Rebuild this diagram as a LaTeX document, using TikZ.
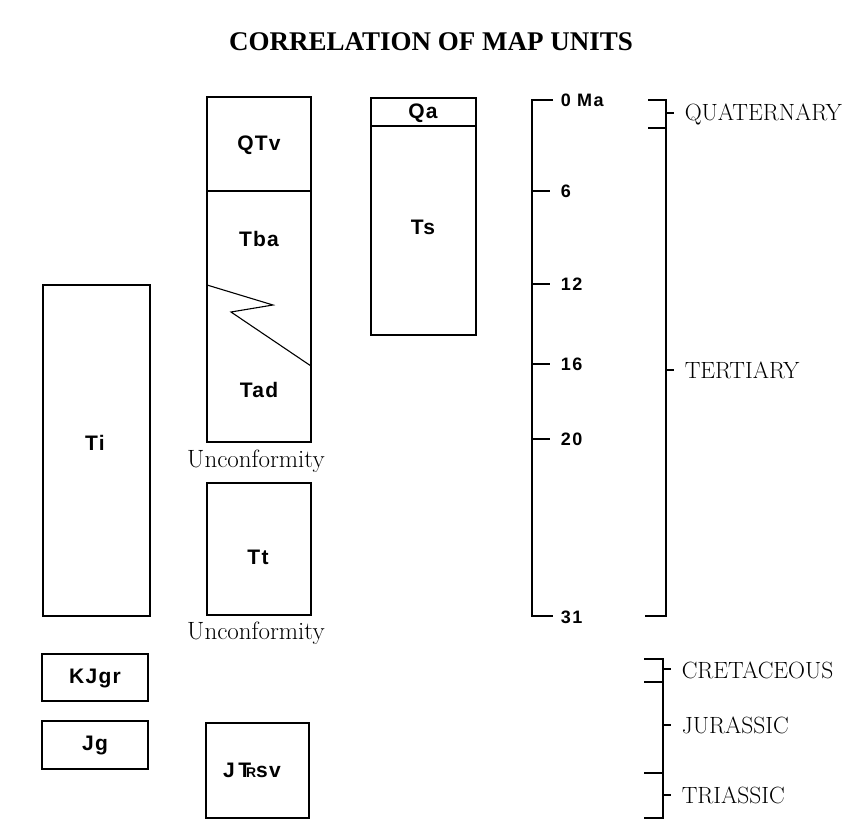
\documentclass[tikz,border=0pt]{standalone}
\usepackage{fontspec}
\newfontfamily\unitfont{Liberation Sans}[LetterSpace=6]
\newfontfamily\agefont{Liberation Sans}[LetterSpace=9]
\newfontfamily\titlefont{Liberation Serif}
\newcommand{\triassic}{T\kern-0.24em\raisebox{0pt}{\fontsize{14}{14}\selectfont R}}

\begin{document}
\begin{tikzpicture}[x=1pt, y=-1pt, line width=1.5pt,
    unit/.style={font=\unitfont\bfseries\fontsize{21}{24}\selectfont, inner sep=0pt},
    age/.style={font=\agefont\bfseries\fontsize{18}{20}\selectfont, anchor=west, inner sep=0pt},
    period/.style={font=\fontsize{23.5}{26}\selectfont, anchor=west, inner sep=0pt},
    unconf/.style={font=\fontsize{25}{28}\selectfont, inner sep=0pt}]
  \useasboundingbox (0,0) rectangle (865,835);
  % title
  \node[font=\titlefont\bfseries\fontsize{27}{30}\selectfont, anchor=base] (title) at (431,50)
       {CORRELATION OF MAP UNITS};
  % intrusive column
  \draw (43,285) rectangle (150,616);
  \node[unit] (ti) at (95,443) {Ti};
  \draw (42,654) rectangle (148,701);
  \node[unit] (kjgr) at (95,678) {KJgr};
  \draw (42,721) rectangle (148,769);
  \node[unit] (jg) at (95,745) {Jg};
  % volcanic column
  \draw (207,97) rectangle (311,442);
  \draw (207,191) -- (311,191);
  \draw[line width=1.1pt] (207,285) -- (273,305) -- (231,312) -- (311,366);
  \node[unit] (qtv) at (259,145) {QTv};
  \node[unit] (tba) at (259,239) {Tba};
  \node[unit] (tad) at (259,390) {Tad};
  \node[unconf] (unc1) at (256,461) {Unconformity};
  \draw (207,483) rectangle (311,615);
  \node[unit] (tt) at (258,557) {Tt};
  \node[unconf] (unc2) at (256,633) {Unconformity};
  \draw (206,723) rectangle (309,818);
  \node[unit] (jtrsv) at (252,770) {J\,\triassic sv};
  % sedimentary column
  \draw (371,98) rectangle (476,335);
  \draw (371,126) -- (476,126);
  \node[unit] (qa) at (423,113) {Qa};
  \node[unit] (ts) at (423,227) {Ts};
  % time scale
  \draw (553,100) -- (532,100) -- (532,616) -- (553,616);
  \node[age] (ma0) at (560,100) {0\hspace{0.35em}Ma};
  \foreach \y/\t in {191/6, 284/12, 364/16, 439/20}{
    \draw (532,\y) -- (550,\y);
    \node[age] (ma\t) at (560,\y) {\t};
  }
  \node[age] (ma31) at (560,617) {31};
  % periods
  \draw (648,100) -- (666,100) -- (666,616) -- (645,616);
  \draw (648,128) -- (666,128);
  \draw (666,113) -- (674,113);
  \draw (666,370) -- (674,370);
  \node[period] (quat) at (684,114) {QUATERNARY};
  \node[period] (tert) at (684,370) {TERTIARY};
  \draw (644,659) -- (663,659) -- (663,818) -- (644,818);
  \draw (644,682) -- (663,682);
  \draw (644,773) -- (663,773);
  \foreach \y in {669,725,795}{\draw (663,\y) -- (671,\y);}
  \node[period] (cret) at (681,670) {CRETACEOUS};
  \node[period] (jur) at (681,725) {JURASSIC};
  \node[period] (tri) at (681,795) {TRIASSIC};
\end{tikzpicture}
\end{document}
